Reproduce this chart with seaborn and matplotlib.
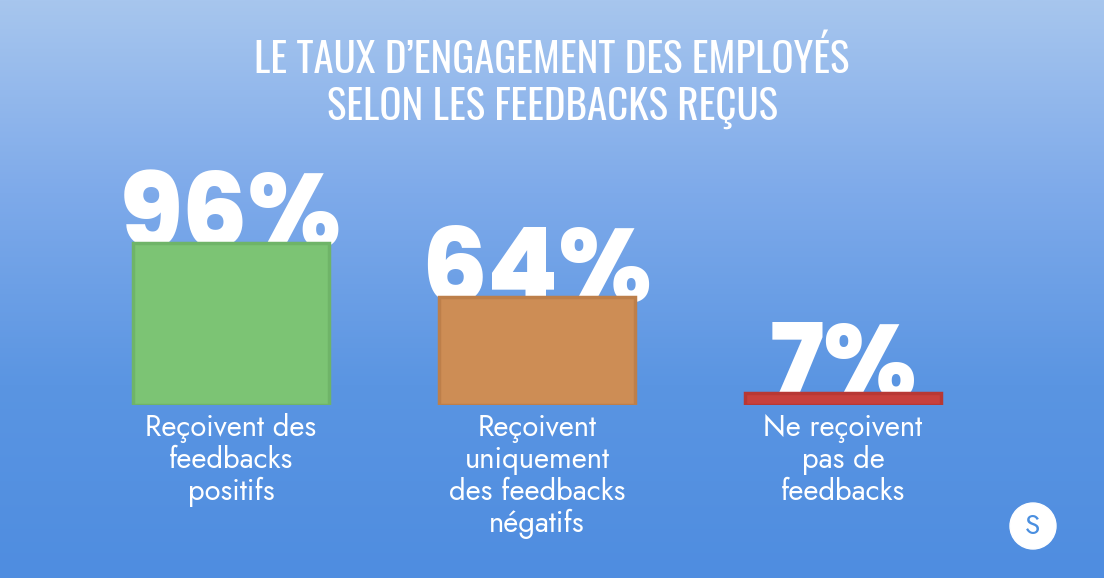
import numpy as np
import pandas as pd
import seaborn as sns
import matplotlib.pyplot as plt
from matplotlib import font_manager
from matplotlib.colors import LinearSegmentedColormap
from matplotlib.patches import Ellipse

# data
categories = ['positifs', 'negatifs', 'aucun']
values = [96, 64, 7]
value_labels = ['96%', '64%', '7%']
bar_colors = ['#7cc474', '#cd8d55', '#c8403c']
edge_colors = ['#6fb468', '#bd7f4a', '#b83834']
cat_labels = ['Reçoivent des\nfeedbacks\npositifs',
              'Reçoivent\nuniquement\ndes feedbacks\nnégatifs',
              'Ne reçoivent\npas de\nfeedbacks']
title = "LE TAUX D’ENGAGEMENT DES EMPLOYÉS\nSELON LES FEEDBACKS REÇUS"

sns.set_theme(style='white')

fonts = [(f.name, f.weight) for f in font_manager.fontManager.ttflist]


def pick(cands, minw=0):
    for c in cands:
        if any(n == c and (w if isinstance(w, int) else 400) >= minw for n, w in fonts):
            return c
    return 'DejaVu Sans'


geo = pick(['Jost', 'League Spartan', 'Spartan', 'Kumbh Sans', 'Lato'])
bold = pick(['Jost', 'League Spartan', 'Spartan', 'Poppins', 'Montserrat', 'Lato'], 700)
cond = pick(['Oswald', 'Antonio', 'Fjalla One', 'Roboto Condensed', 'Archivo Narrow'])
plt.rcParams['font.family'] = [geo, 'DejaVu Sans']

df = pd.DataFrame({'cat': categories, 'val': values})

fig = plt.figure(figsize=(11.04, 5.78), dpi=100)

# background gradient
bg = fig.add_axes([0, 0, 1, 1])
cmap = LinearSegmentedColormap.from_list('bg', ['#a7c6ee', '#7eaaea', '#5a95e2', '#4f8de0'])
grad = np.linspace(0, 1, 256).reshape(-1, 1)
bg.imshow(grad, aspect='auto', cmap=cmap, extent=[0, 1, 0, 1], origin='upper')
bg.set_xlim(0, 1)
bg.set_ylim(0, 1)
bg.axis('off')

# bars
ax = fig.add_axes([78 / 1104, (578 - 405) / 578, 918 / 1104, 168.75 / 578])
sns.barplot(data=df, x='cat', y='val', hue='cat', palette=bar_colors,
            width=0.64, saturation=1, legend=False, ax=ax, zorder=3)
for p, ec in zip(ax.patches, edge_colors):
    p.set_edgecolor(ec)
    p.set_linewidth(2.5)
ax.set_xlim(-0.5, 2.5)
ax.set_ylim(0, 100)
ax.axis('off')

# size the big numbers from the width of "96%"
renderer = fig.canvas.get_renderer()
probe = fig.text(0, 0, value_labels[0], fontsize=80, fontweight='heavy', family=[bold, 'DejaVu Sans'])
w = probe.get_window_extent(renderer).width
probe.remove()
big = min(88, 80 * 222 / w)

for i, (v, lab) in enumerate(zip(values, value_labels)):
    ax.annotate(lab, (i, v), xytext=(0, -3), textcoords='offset points',
                ha='center', va='baseline', fontsize=big, fontweight='heavy',
                family=[bold, 'DejaVu Sans'],
                color='white', zorder=1, annotation_clip=False)
    ax.annotate(cat_labels[i], (i, 0), xytext=(0, -6), textcoords='offset points',
                ha='center', va='top', fontsize=21, fontweight='medium', color='white',
                linespacing=1.08, annotation_clip=False)

fig.text(0.5, 1 - 83 / 578, title, ha='center', va='center', fontsize=29.5,
         color='white', linespacing=1.2, family=[cond, 'DejaVu Sans'], fontweight='light')

# logo
bg.add_patch(Ellipse((1033 / 1104, 1 - 526 / 578), 46 / 1104, 46 / 578,
                     transform=bg.transAxes, facecolor='white'))
bg.text(1033 / 1104, 1 - 526 / 578, 'S', ha='center', va='center', fontsize=20,
        fontweight='bold', color='#4a8fe0')

fig.savefig('out.png', dpi=100)
